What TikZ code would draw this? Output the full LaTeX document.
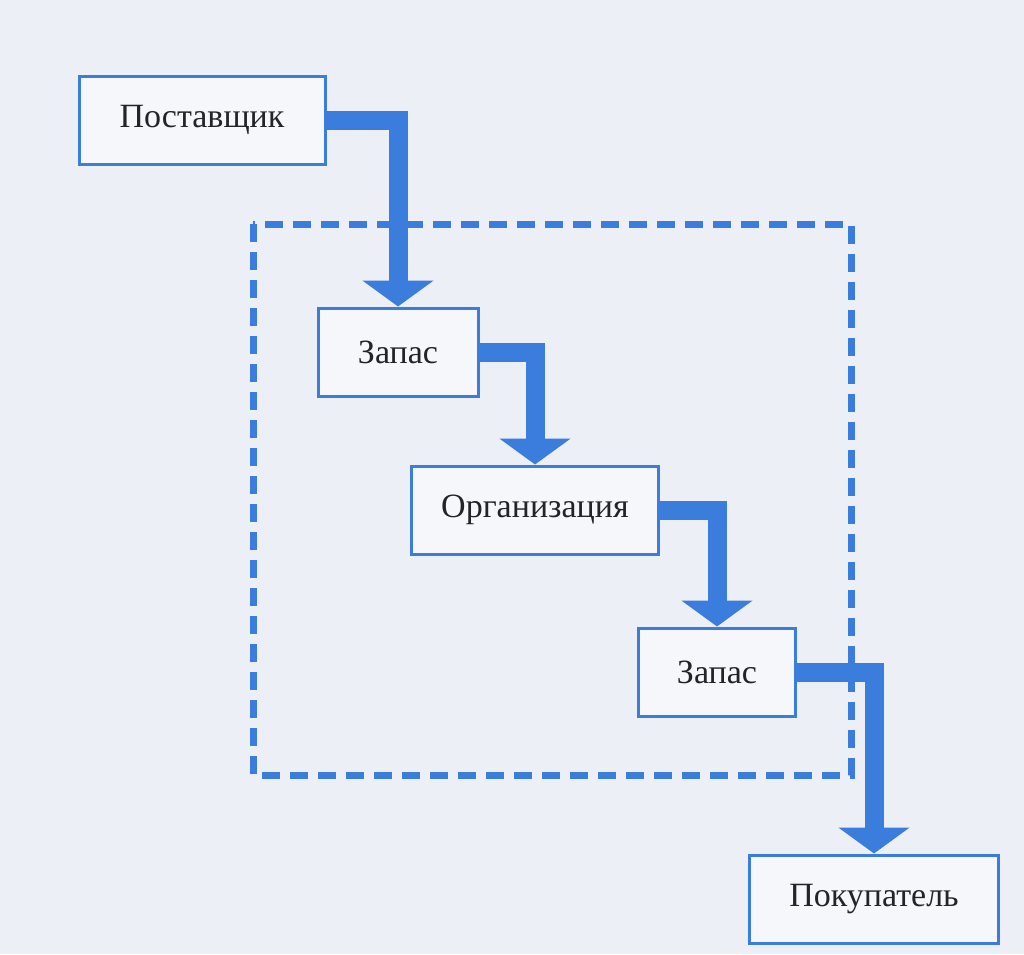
\documentclass[tikz,border=0pt]{standalone}
\usepackage{fontspec}
\setmainfont{Liberation Serif}
\usetikzlibrary{arrows.meta}
\definecolor{flowblue}{RGB}{58,125,220}
\definecolor{paper}{RGB}{236,239,245}
\definecolor{inkgray}{RGB}{35,35,40}
\begin{document}
\begin{tikzpicture}
[x=1pt,y=-1pt,
 boxdecorate/.style={shape=rectangle,draw=flowblue,line width=3pt,fill=white!50!paper,
   minimum height=88pt,inner sep=0pt,text=inkgray,font=\fontsize{34}{38}\selectfont},
 flowdecorate/.style={draw=flowblue,line width=19pt,-{Triangle[width=70pt,length=26pt]}},
 borderdecorate/.style={draw=flowblue,line width=7pt,dash pattern=on 18pt off 10pt}]
\fill[paper] (0,0) rectangle (1024,954);
\useasboundingbox (0,0) rectangle (1024,954);
%% dashed frame
\draw[borderdecorate] (253,224) rectangle (851,775);
%% nodes or boxes
\foreach \nodename/\x/\y/\w/\label in {sup/202/120/246/Поставщик, zap1/398/352/160/Запас,
  org/535/510/247/Организация, zap2/717/672/157/Запас, cus/874/899/249/Покупатель} {
  \node (\nodename) at (\x,\y) [boxdecorate,minimum width=\w pt] {\label};
}
%% flows
\foreach \startnode/\endnode in {sup/zap1, zap1/org, org/zap2, zap2/cus} {
  \draw[flowdecorate] (\startnode.east) -| (\endnode.north);
}
\end{tikzpicture}
\end{document}
